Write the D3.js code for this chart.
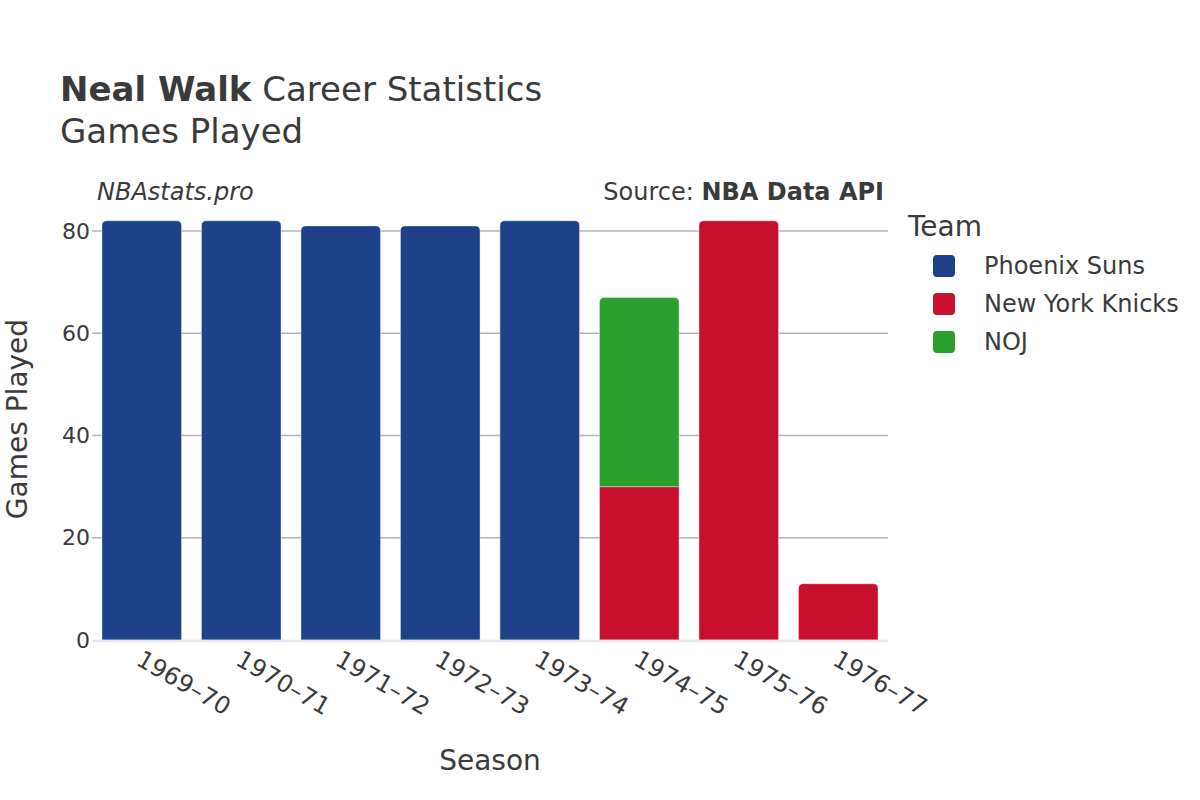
<!DOCTYPE html>
<html><head><meta charset="utf-8">
<script src="https://cdn.jsdelivr.net/npm/d3@7"></script>
<style>body{margin:0;background:#fff;} text{font-family:"DejaVu Sans",sans-serif;fill:#3a3a3a;}</style>
</head><body>
<svg id="chart" width="1200" height="800"></svg>
<script>
const seasons = ["1969–70","1970–71","1971–72","1972–73","1973–74","1974–75","1975–76","1976–77"];
const teams = ["Phoenix Suns","New York Knicks","NOJ"];
const teamColors = ["#1d428a","#c8102e","#2ca02c"];
const phoenixSuns = [82,82,81,81,82,0,0,0];
const newYorkKnicks = [0,0,0,0,0,30,82,11];
const noj = [0,0,0,0,0,37,0,0];
const yTicks = [0,20,40,60,80];

const series = [phoenixSuns, newYorkKnicks, noj];
const svg = d3.select("#chart");
const left = 92, right = 888, y0 = 640, y80 = 231;
const x = d3.scaleBand().domain(seasons).range([left, right]).paddingInner(0.2).paddingOuter(0.1);
const y = d3.scaleLinear().domain([0, 80]).range([y0, y80]);

// gridlines
svg.append("g").selectAll("line").data(yTicks.filter(d => d > 0)).join("line")
  .attr("x1", left).attr("x2", right).attr("y1", d => y(d)).attr("y2", d => y(d))
  .attr("stroke", "#b3b3b3").attr("stroke-width", 1.3);

// y tick labels
const yAxis = d3.axisLeft(y).tickValues(yTicks).tickSize(0).tickPadding(0);
const ga = svg.append("g").attr("transform", `translate(${left - 2},0)`).call(yAxis);
ga.attr("font-size", null).attr("font-family", null);
ga.select(".domain").remove();
ga.selectAll("text").style("font-size", "22px").style("fill", "#3a3a3a");

// bars
const stackData = seasons.map((s, i) => {
  const o = {season: s};
  teams.forEach((t, k) => o[t] = series[k][i]);
  return o;
});
const stacked = d3.stack().keys(teams)(stackData);

function topRounded(x0, yTop, w, h, r) {
  r = Math.min(r, h, w / 2);
  return `M${x0},${yTop + h} L${x0},${yTop + r} Q${x0},${yTop} ${x0 + r},${yTop} L${x0 + w - r},${yTop} Q${x0 + w},${yTop} ${x0 + w},${yTop + r} L${x0 + w},${yTop + h} Z`;
}

stacked.forEach((layer, k) => {
  svg.append("g").selectAll("path").data(layer.map((d, i) => ({d, i}))).join("path")
    .filter(o => o.d[1] - o.d[0] > 0)
    .attr("d", o => {
      const i = o.i, d = o.d;
      const isTop = stacked.every((l, kk) => kk <= k || l[i][1] - l[i][0] === 0);
      const xx = x(seasons[i]), w = x.bandwidth();
      const yt = y(d[1]), h = y(d[0]) - y(d[1]);
      return topRounded(xx, yt, w, h, isTop ? 5 : 0);
    })
    .attr("fill", teamColors[k])
    .attr("stroke", "#fff").attr("stroke-opacity", 0.5).attr("stroke-width", 0.8);
});

// baseline
svg.append("line").attr("x1", left).attr("x2", right).attr("y1", y0 + 1).attr("y2", y0 + 1)
  .attr("stroke", "#e6e6e6").attr("stroke-width", 2.5);

// x tick labels
const xAxis = d3.axisBottom(x).tickSize(0).tickPadding(0);
const gx = svg.append("g").attr("transform", `translate(0,${y0})`).call(xAxis);
gx.attr("font-size", null).attr("font-family", null);
gx.select(".domain").remove();
gx.selectAll("text")
  .style("font-size", "24px").style("fill", "#3a3a3a")
  .attr("text-anchor", "start").attr("dy", null).attr("y", 0)
  .attr("transform", "translate(-7,24) rotate(30)");

// titles
const t = svg.append("text").attr("x", 60).attr("y", 101).attr("font-size", 34);
t.append("tspan").attr("font-weight", "bold").text("Neal Walk");
t.append("tspan").text(" Career Statistics");
svg.append("text").attr("x", 60).attr("y", 143).attr("font-size", 34).text("Games Played");

svg.append("text").attr("x", 97).attr("y", 200).attr("font-size", 24).attr("font-style", "italic").text("NBAstats.pro");
const src = svg.append("text").attr("x", 884).attr("y", 200).attr("font-size", 24).attr("text-anchor", "end");
src.append("tspan").text("Source: ");
src.append("tspan").attr("font-weight", "bold").text("NBA Data API");

// axis titles
svg.append("text").attr("x", 490).attr("y", 770).attr("font-size", 28).attr("text-anchor", "middle").text("Season");
svg.append("text").attr("transform", "translate(27,419) rotate(-90)").attr("font-size", 28).attr("text-anchor", "middle").text("Games Played");

// legend
svg.append("text").attr("x", 908).attr("y", 236).attr("font-size", 28).text("Team");
const lg = svg.append("g").selectAll("g").data(teams).join("g")
  .attr("transform", (d, i) => `translate(933,${266 + i * 38})`);
lg.append("rect").attr("x", 0).attr("y", -11).attr("width", 22).attr("height", 22).attr("rx", 4)
  .attr("fill", (d, i) => teamColors[i]);
lg.append("text").attr("x", 51).attr("y", 8).attr("font-size", 24).text(d => d);
</script>
</body></html>
